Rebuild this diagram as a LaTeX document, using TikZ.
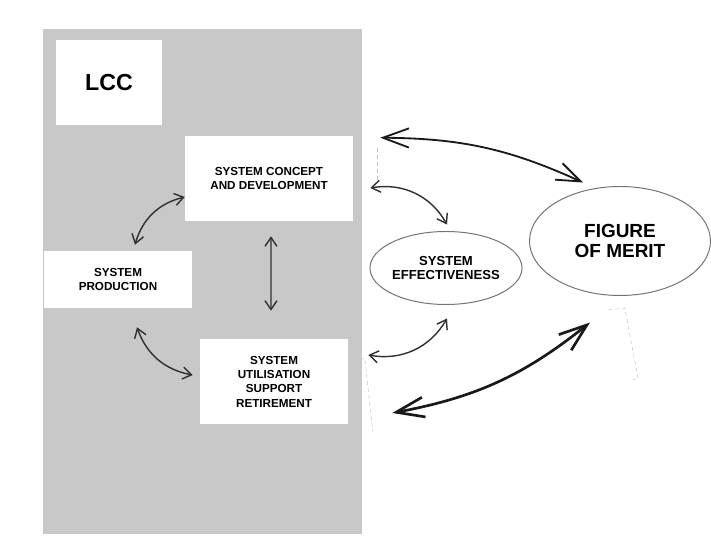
\documentclass[tikz,border=0pt]{standalone}
\usepackage{fontspec}
\setmainfont{Liberation Sans}
\usetikzlibrary{arrows.meta,shapes.geometric}

\definecolor{panelgrey}{HTML}{C8C8C8}
\definecolor{inkgrey}{HTML}{303030}

\tikzset{
    box/.style={shape=rectangle, fill=white, align=center, inner sep=0pt, font=\bfseries\fontsize{8.3}{10.2}\selectfont},
    oval/.style={shape=ellipse, draw=black!55, line width=0.7pt, fill=white, align=center, inner sep=0pt},
    smallarrow/.style={draw=inkgrey, line width=1pt, {Straight Barb[length=0.22cm, width=0.3cm]}-{Straight Barb[length=0.22cm, width=0.3cm]}},
    bigarrow/.style={draw=black!90, line width=1.3pt, {Straight Barb[length=0.65cm, width=0.48cm]}-{Straight Barb[length=0.6cm, width=0.45cm]}},
    heavyarrow/.style={draw=black!90, line width=1.9pt, {Straight Barb[length=0.7cm, width=0.5cm]}-{Straight Barb[length=0.7cm, width=0.5cm]}},
    scrap/.style={draw=black!25, line width=0.3pt, densely dashed}
}

\begin{document}
\begin{tikzpicture}
        \useasboundingbox (0, 0) rectangle (17.775, 13.45);
        % Panel and boxes:
        \fill[panelgrey] (1.075, 0.1) rectangle (9.05, 12.725);
        \node[box, minimum width=2.65cm, minimum height=2.125cm, font=\bfseries\fontsize{16.5}{19}\selectfont] (lcc) at (2.725, 11.3875){LCC};
        \node[box, minimum width=4.2cm, minimum height=2.125cm] (concept) at (6.725, 8.9875){SYSTEM CONCEPT\\AND DEVELOPMENT};
        \node[box, minimum width=3.7cm, minimum height=1.425cm] (production) at (2.95, 6.4625){SYSTEM\\PRODUCTION};
        \node[box, minimum width=3.7cm, minimum height=2.125cm] (utilisation) at (6.85, 3.9125){SYSTEM\\UTILISATION\\SUPPORT\\RETIREMENT};
        % Ellipses:
        \node[oval, minimum width=3.675cm, minimum height=1.825cm, font=\bfseries\fontsize{9.3}{10.6}\selectfont] (effect) at (11.15, 6.75){SYSTEM\\EFFECTIVENESS};
        \node[oval, minimum width=4.525cm, minimum height=2.725cm, font=\bfseries\fontsize{13.5}{14.2}\selectfont] (merit) at (15.5, 7.425){FIGURE\\OF MERIT};
        % Arrows inside the panel:
        \draw[smallarrow] ([shift={(0, -0.4625)}]concept.west) to[bend right=30] ([shift={(0.425, 0.15)}]production.north);
        \draw[smallarrow] ([shift={(0.05, -0.375)}]concept.south) -- ([shift={(-0.075, 0.7)}]utilisation.north);
        \draw[smallarrow] ([shift={(0.475, -0.475)}]production.south) to[bend right=30] ([shift={(-0.175, 0.1625)}]utilisation.west);
        % Arrows to the ellipses:
        \draw[bigarrow] ([shift={(0.675, -0.05)}]concept.north east) to[bend left=12] ([shift={(-0.925, 0.0875)}]merit.north);
        \draw[smallarrow] ([shift={(0.425, -0.2375)}]concept.east) to[bend left=35] ([shift={(0.025, 0.1625)}]effect.north);
        \draw[smallarrow] ([shift={(0.5, 0.6625)}]utilisation.east) to[bend right=35] ([shift={(0.025, -0.3375)}]effect.south);
        \draw[heavyarrow] ([shift={(1.1, -0.7875)}]utilisation.east) to[bend right=14] ([shift={(-0.75, -0.6625)}]merit.south);
        % Faint marks:
        \draw[scrap] (15.2, 5.7) -- (15.62, 5.75) -- (15.95, 4.0) -- (15.82, 3.95);
        \draw[scrap] (9.0, 4.45) -- (9.12, 4.5) -- (9.32, 2.65);
        \draw[scrap] (9.42, 9.75) -- (9.42, 8.9);
\end{tikzpicture}
\end{document}
